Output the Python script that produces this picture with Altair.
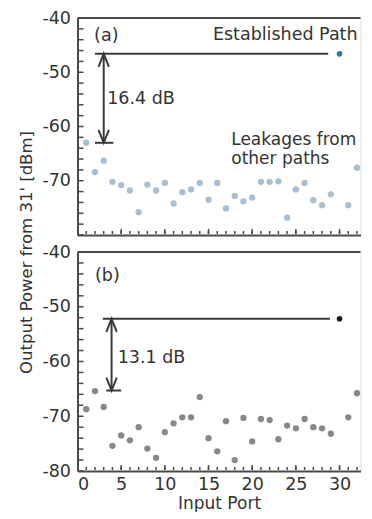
import altair as alt
import pandas as pd

# ---------------- data ----------------
ports = list(range(1, 33))
est_port = 30
leak_ports = [p for p in ports if p != est_port]

leak_a = [-63.0, -68.4, -66.3, -70.2, -70.8, -71.8, -75.8, -70.7, -71.8, -70.4,
          -74.2, -72.1, -71.6, -70.4, -73.5, -70.4, -75.1, -72.8, -73.8, -73.1,
          -70.2, -70.2, -70.1, -76.8, -71.6, -70.4, -73.6, -74.5, -72.5,
          -74.5, -67.6]
leak_b = [-68.7, -65.4, -68.3, -75.4, -73.5, -74.4, -72.0, -75.9, -77.6, -72.9,
          -71.3, -70.2, -70.2, -66.5, -74.0, -76.4, -70.9, -78.0, -70.3, -74.6,
          -70.5, -70.7, -74.2, -71.7, -72.2, -70.5, -72.0, -72.2, -73.2,
          -70.2, -65.8]
est_a = -46.6
est_b = -52.2
gap_a = 16.4
gap_b = 13.1

y_labels_a = [-40, -50, -60, -70]
y_labels_b = [-40, -50, -60, -70, -80]
y_ticks = list(range(-80, -39, 2))
x_labels = [0, 5, 10, 15, 20, 25, 30]
x_minor = ports
x_major = [5, 10, 15, 20, 25, 30]

FONT = "DejaVu Sans"
FS = 17.5
FRAME = "#4a4a4a"
INK = "#3a3a3a"
TXT = "#333333"
X_MAX = 32.4
W = 283


def panel(leak_vals, est_val, gap, leak_color, est_color, ann, height,
          y_labels, show_x_labels, y_title):
    bracket = est_val - gap
    xargs = dict(values=x_labels, labels=show_x_labels, ticks=False,
                 grid=False, domainWidth=2, domainColor=FRAME,
                 labelFontSize=FS, labelColor=TXT, labelFont=FONT,
                 labelPadding=4.5, labelExpr="'' + datum.value")
    if show_x_labels:
        xargs.update(title="Input Port", titleFontSize=17, titleFontWeight="normal",
                     titleColor=TXT, titleFont=FONT, titleY=32,
                     titleBaseline="middle")
    else:
        xargs.update(title=None)
    xaxis = alt.Axis(**xargs)
    yargs = dict(values=y_labels, ticks=False, grid=False, domainWidth=2,
                 domainColor=FRAME, labelFontSize=FS, labelColor=TXT,
                 labelFont=FONT, labelPadding=7, labelExpr="'' + datum.value")
    if y_title:
        yargs.update(title=y_title, titleFontSize=16.5, titleFontWeight="normal",
                     titleColor=TXT, titleFont=FONT, titleX=-51, titleY=0,
                     titleAngle=270, titleAlign="center", titleBaseline="middle",
                     titleLineHeight=14)
    else:
        yargs.update(title=None)
    yaxis = alt.Axis(**yargs)

    X = alt.X("port:Q", scale=alt.Scale(domain=[0, X_MAX], nice=False, zero=False), axis=xaxis)
    Y = alt.Y("power:Q", scale=alt.Scale(domain=[-80, -40], nice=False, zero=False), axis=yaxis)

    leak_df = pd.DataFrame({"port": leak_ports, "power": leak_vals})
    est_df = pd.DataFrame({"port": [est_port], "power": [est_val]})

    pts = alt.Chart(leak_df).mark_circle(size=40, color=leak_color, opacity=1).encode(x=X, y=Y)
    est = alt.Chart(est_df).mark_circle(size=32, color=est_color, opacity=1).encode(x=X, y=Y)

    frame_top = alt.Chart(pd.DataFrame({"power": [-40]})).mark_rule(
        strokeWidth=2, color=FRAME).encode(y=Y)

    hline = alt.Chart(pd.DataFrame({"port": [ann["line"][0]], "port2": [ann["line"][1]],
                                    "power": [est_val]})).mark_rule(
        strokeWidth=2, color=INK).encode(x=X, x2="port2:Q", y=Y)
    brk = alt.Chart(pd.DataFrame({"port": [ann["bracket"][0]], "port2": [ann["bracket"][1]],
                                  "power": [bracket]})).mark_rule(
        strokeWidth=2, color=INK).encode(x=X, x2="port2:Q", y=Y)
    vline = alt.Chart(pd.DataFrame({"port": [ann["arrow"]], "power": [est_val],
                                    "power2": [bracket]})).mark_rule(
        strokeWidth=2, color=INK).encode(x=X, y=Y, y2="power2:Q")
    head_up = alt.Chart(pd.DataFrame({"port": [ann["arrow"]], "power": [est_val]})).mark_point(
        shape="M-0.4,1L0,0L0.4,1", size=676, filled=False, strokeWidth=2,
        color=INK, opacity=1).encode(x=X, y=Y)
    head_dn = alt.Chart(pd.DataFrame({"port": [ann["arrow"]], "power": [bracket]})).mark_point(
        shape="M-0.4,-1L0,0L0.4,-1", size=676, filled=False, strokeWidth=2,
        color=INK, opacity=1).encode(x=X, y=Y)

    ytk = alt.Chart(pd.DataFrame({"power": y_ticks})).mark_tick(
        orient="horizontal", size=5, thickness=1.5, color=FRAME, opacity=1).encode(
        y=Y, x=alt.value(3.5))
    xtk_minor = alt.Chart(pd.DataFrame({"port": x_minor})).mark_tick(
        orient="vertical", size=3, thickness=1.5, color=FRAME, opacity=1).encode(
        x=X, y=alt.value(height - 2.5))
    xtk_major = alt.Chart(pd.DataFrame({"port": x_major})).mark_tick(
        orient="vertical", size=5, thickness=1.5, color=FRAME, opacity=1).encode(
        x=X, y=alt.value(height - 3.5))
    layers = [frame_top, ytk, xtk_minor, xtk_major, hline, brk, vline,
              head_up, head_dn, pts, est]

    txt_df = pd.DataFrame({"port": [t[0] for t in ann["texts"]],
                           "power": [t[1] for t in ann["texts"]],
                           "label": [t[2] for t in ann["texts"]]})
    layers.append(alt.Chart(txt_df).mark_text(
        align="left", baseline="middle", fontSize=FS, font=FONT, color=TXT,
        clip=True).encode(x=X, y=Y, text="label:N"))

    if ann.get("block"):
        bx, by, btxt = ann["block"]
        layers.append(alt.Chart(pd.DataFrame({"port": [bx], "power": [by], "label": [btxt]})).mark_text(
            align="left", baseline="top", fontSize=17, font=FONT, color=TXT,
            lineBreak="\n", lineHeight=19.5, clip=True).encode(x=X, y=Y, text="label:N"))

    return alt.layer(*layers).properties(width=W, height=height)


ann_a = {
    "line": (2.0, 28.7), "bracket": (2.0, 4.1), "arrow": 3.0,
    "texts": [(1.9, -43.4, "(a)"), (15.5, -43.2, "Established Path"),
              (3.4, -55.0, "16.4 dB")],
    "block": (17.6, -61.0, "Leakages from\nother paths"),
}
ann_b = {
    "line": (2.9, 28.9), "bracket": (3.3, 5.0), "arrow": 3.9,
    "texts": [(2.0, -44.3, "(b)"), (4.6, -59.3, "13.1 dB")],
}

top = panel(leak_a, est_a, gap_a, "#a9bed0", "#1f7fa3", ann_a, 217,
            y_labels_a, False, None)
bottom = panel(leak_b, est_b, gap_b, "#888888", "#1a1a1a", ann_b, 219,
               y_labels_b, True, "Output Power from 31' [dBm]")

chart = alt.vconcat(top, bottom, spacing=17, bounds="flush").properties(
    padding={"left": 9.5, "top": 0, "right": 0, "bottom": 0}
).configure_view(stroke=None).configure(font=FONT)

chart.save("out.html", embed_options={"renderer": "svg", "actions": False})
